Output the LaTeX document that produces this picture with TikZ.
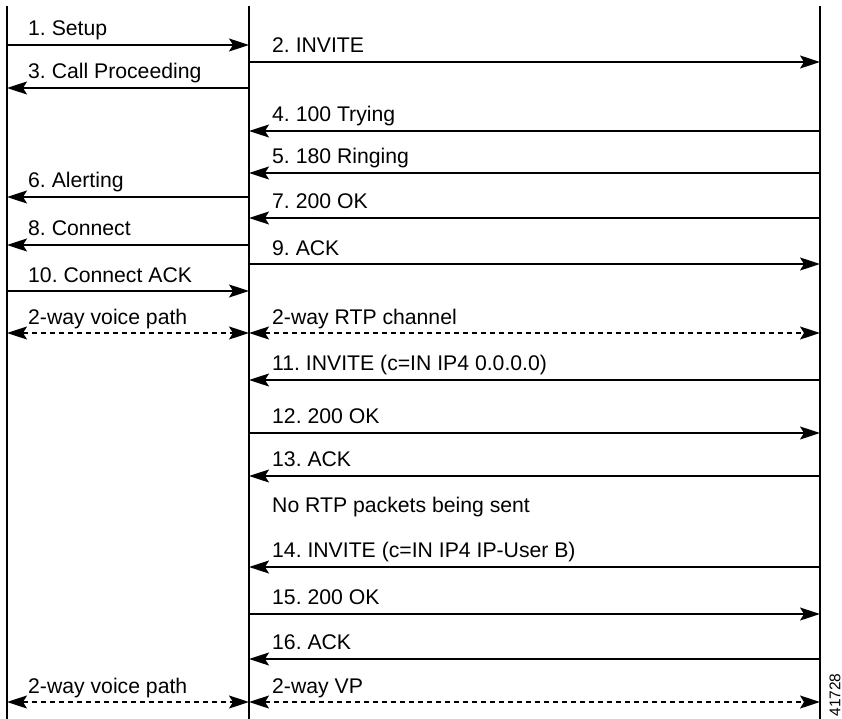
\documentclass[tikz,border=0pt]{standalone}
\usepackage{fontspec}
\setmainfont{Liberation Sans}
\usetikzlibrary{arrows.meta}
\begin{document}
\frenchspacing
\begin{tikzpicture}[x=1pt,y=-1pt,
  life/.style={line width=1.2pt},
  msgline/.style={line width=1.4pt,-{Stealth[length=20pt,width=13pt,inset=4pt]}},
  twoway/.style={line width=1.4pt,dash pattern=on 5pt off 4pt,{Stealth[length=20pt,width=13pt,inset=4pt]}-{Stealth[length=20pt,width=13pt,inset=4pt]}},
  lbl/.style={anchor=base west,inner sep=0pt,font=\fontsize{21.2}{25}\selectfont}]
\useasboundingbox (0,0) rectangle (842,719);
% lifelines
\coordinate (At) at (7,6);   \coordinate (Ab) at (7,719);
\coordinate (Bt) at (249,6); \coordinate (Bb) at (249,719);
\coordinate (Ct) at (820,6); \coordinate (Cb) at (820,719);
\draw[life] (At) -- (Ab);
\draw[life] (Bt) -- (Bb);
\draw[life] (Ct) -- (Cb);
% message end points
\foreach \n/\y in {m1/45,m2/62,m3/88,m4/131,m5/173,m6/197,m7/218,m8/245,m9/264,m10/291,
                   v1/333,m11/380,m12/433,m13/476,m14/567,m15/614,m16/659,v2/702}{
  \coordinate (\n A) at (7,\y);
  \coordinate (\n B) at (249,\y);
  \coordinate (\n C) at (820,\y);
}
\draw[msgline] (m1A) -- (m1B);
\node[lbl] (t1) at (28,36) {1. Setup};
\draw[msgline] (m2B) -- (m2C);
\node[lbl] (t2) at (272,53) {2. INVITE};
\draw[msgline] (m3B) -- (m3A);
\node[lbl] (t3) at (28,79) {3. Call Proceeding};
\draw[msgline] (m4C) -- (m4B);
\node[lbl] (t4) at (272,122) {4. 100 Trying};
\draw[msgline] (m5C) -- (m5B);
\node[lbl] (t5) at (272,164) {5. 180 Ringing};
\draw[msgline] (m6B) -- (m6A);
\node[lbl] (t6) at (28,188) {6. Alerting};
\draw[msgline] (m7C) -- (m7B);
\node[lbl] (t7) at (272,209) {7. 200 OK};
\draw[msgline] (m8B) -- (m8A);
\node[lbl] (t8) at (28,236) {8. Connect};
\draw[msgline] (m9B) -- (m9C);
\node[lbl] (t9) at (272,255) {9. ACK};
\draw[msgline] (m10A) -- (m10B);
\node[lbl] (t10) at (28,282) {10. Connect ACK};
\draw[twoway] (v1A) -- (v1B);
\node[lbl] (tv1) at (28,324) {2-way voice path};
\draw[twoway] (v1B) -- (v1C);
\node[lbl] (tr1) at (272,324) {2-way RTP channel};
\draw[msgline] (m11C) -- (m11B);
\node[lbl] (t11) at (272,370) {11. INVITE (c=IN IP4 0.0.0.0)};
\draw[msgline] (m12B) -- (m12C);
\node[lbl] (t12) at (272,423) {12. 200 OK};
\draw[msgline] (m13C) -- (m13B);
\node[lbl] (t13) at (272,466) {13. ACK};
\node[lbl] (tno) at (272,512) {No RTP packets being sent};
\draw[msgline] (m14C) -- (m14B);
\node[lbl] (t14) at (272,557) {14. INVITE (c=IN IP4 IP-User B)};
\draw[msgline] (m15B) -- (m15C);
\node[lbl] (t15) at (272,604) {15. 200 OK};
\draw[msgline] (m16C) -- (m16B);
\node[lbl] (t16) at (272,649) {16. ACK};
\draw[twoway] (v2A) -- (v2B);
\node[lbl] (tv2) at (28,693) {2-way voice path};
\draw[twoway] (v2B) -- (v2C);
\node[lbl] (tr2) at (272,693) {2-way VP};
\node[rotate=90,inner sep=0pt,font=\fontsize{15.5}{18}\selectfont] (fig) at (835,695) {41728};
\end{tikzpicture}
\end{document}
